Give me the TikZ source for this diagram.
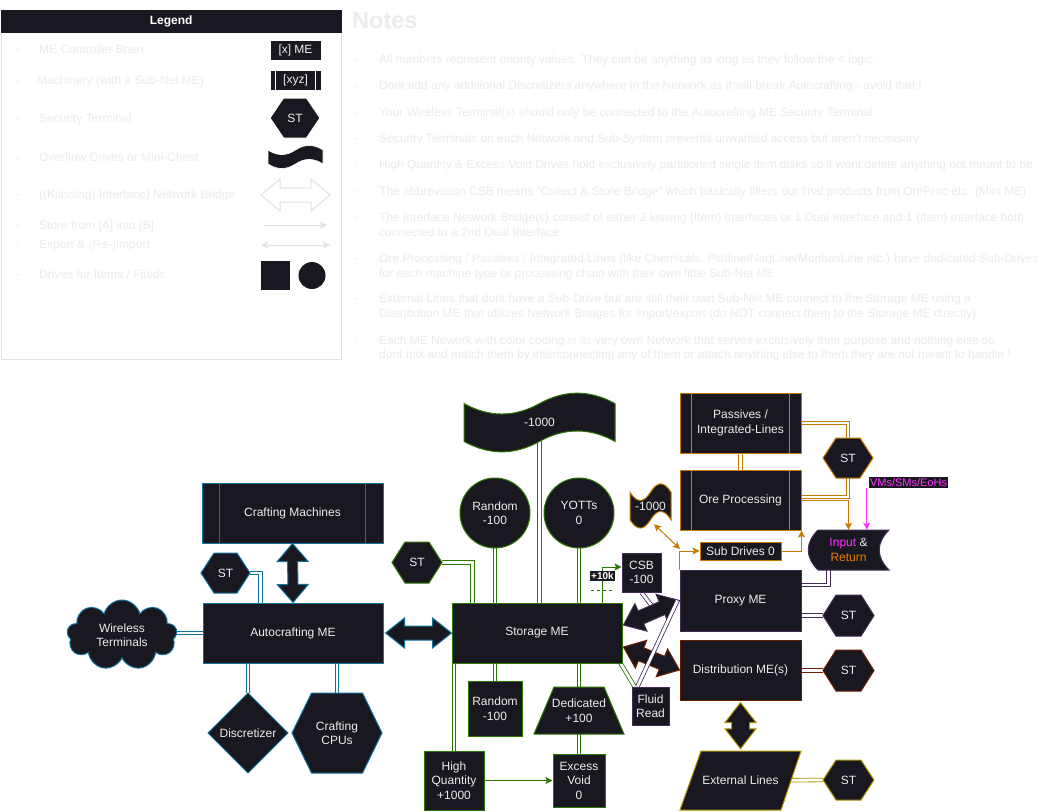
\documentclass[tikz,border=0pt]{standalone}
\usepackage{fontspec}
\setmainfont{Liberation Sans}
\usetikzlibrary{calc,arrows.meta,shapes.symbols}
\pgfdeclarelayer{back}
\pgfdeclarelayer{bg}
\pgfsetlayers{back,bg,main}
\definecolor{dk}{RGB}{25,23,31}
\definecolor{tx}{RGB}{236,236,236}
\definecolor{lt}{RGB}{236,236,236}
\definecolor{lgb}{RGB}{226,226,226}
\definecolor{cB}{HTML}{10739E}
\definecolor{cG}{HTML}{2D7600}
\definecolor{cP}{HTML}{432D57}
\definecolor{cO}{HTML}{C77A00}
\definecolor{cR}{HTML}{6D1F00}
\definecolor{cY}{HTML}{B09500}
\definecolor{cM}{HTML}{FF33FF}
\definecolor{cOt}{HTML}{E88000}
% draw.io style tape: x0,y0,w,h,size,style
\newcommand\drawtape[6]{%
 \pgfmathsetmacro\tpX{#1}\pgfmathsetmacro\tpY{#2}\pgfmathsetmacro\tpW{#3}%
 \pgfmathsetmacro\tpH{#4}\pgfmathsetmacro\tpD{#4*#5}%
 \draw[#6] (\tpX,\tpY+\tpD/2) .. controls (\tpX+\tpW/6,\tpY+1.1*\tpD) and (\tpX+\tpW/3,\tpY+1.1*\tpD) .. (\tpX+\tpW/2,\tpY+\tpD/2)
  .. controls (\tpX+2*\tpW/3,\tpY-0.1*\tpD) and (\tpX+5*\tpW/6,\tpY-0.1*\tpD) .. (\tpX+\tpW,\tpY+\tpD/2)
  -- (\tpX+\tpW,\tpY+\tpH-\tpD/2)
  .. controls (\tpX+5*\tpW/6,\tpY+\tpH-1.1*\tpD) and (\tpX+2*\tpW/3,\tpY+\tpH-1.1*\tpD) .. (\tpX+\tpW/2,\tpY+\tpH-\tpD/2)
  .. controls (\tpX+\tpW/3,\tpY+\tpH+0.1*\tpD) and (\tpX+\tpW/6,\tpY+\tpH+0.1*\tpD) .. (\tpX,\tpY+\tpH-\tpD/2) -- cycle;}
% hexagon: cx,cy,hw,hh,inset,style
\newcommand\hexshape[6]{%
 \draw[#6] ({#1-#3},#2) -- ({#1-#3+#5},{#2-#4}) -- ({#1+#3-#5},{#2-#4}) -- ({#1+#3},#2)
   -- ({#1+#3-#5},{#2+#4}) -- ({#1-#3+#5},{#2+#4}) -- cycle;}
% flex double arrow: style, A, B, shaft half, head half, head length
\newcommand\flexarrow[6]{%
 \coordinate (faP) at ($(#2)!#6!(#3)$);
 \coordinate (faQ) at ($(#3)!#6!(#2)$);
 \draw[#1] (#2) -- ($(faP)!#5!90:(#3)$) -- ($(faP)!#4!90:(#3)$) -- ($(faQ)!#4!-90:(#2)$)
   -- ($(faQ)!#5!-90:(#2)$) -- (#3) -- ($(faQ)!#5!90:(#2)$) -- ($(faQ)!#4!90:(#2)$)
   -- ($(faP)!#4!-90:(#3)$) -- ($(faP)!#5!-90:(#3)$) -- cycle;}
\begin{document}
\begin{tikzpicture}[x=1pt,y=-1pt,
  txt/.style={text=tx, font=\fontsize{12}{14.5}\selectfont, align=center, inner sep=0pt},
  box/.style={txt, draw=#1, fill=dk, line width=1pt},
  dbl/.style={draw=#1, line width=0.8pt, double=white, double distance=2.8pt},
  arr/.style={draw=#1, line width=1pt, -{Stealth[length=7pt,width=7pt,inset=1.5pt]}},
  arrs/.style={draw=#1, line width=1pt, {Stealth[length=7pt,width=7pt,inset=1.5pt]}-{Stealth[length=7pt,width=7pt,inset=1.5pt]}},
  shp/.style={draw=#1, fill=dk, line width=1pt},
  fa/.style={draw=#1, fill=dk, line width=1pt, line join=miter},
  ltxt/.style={text=lt, font=\fontsize{12}{14}\selectfont, anchor=west, inner sep=0pt, text height=8.6pt, text depth=0pt},
]
\useasboundingbox (0,0) rectangle (1041,811);
\begin{pgfonlayer}{back}
\fill[white] (0,0) rectangle (1041,811);
\end{pgfonlayer}

% ---------------- Legend ----------------
\draw[lgb, line width=1pt] (1,10) rectangle (341,359);
\node[fill=dk, minimum width=341pt, minimum height=23pt, inner sep=0pt, anchor=north west, text=white, font=\bfseries\fontsize{12}{14}\selectfont] (leghead) at (0.5,10) {Legend};
\node[ltxt] (ld1) at (16,49) {-};   \node[ltxt] (lt1) at (39,49) {ME Controller Brain};
\node[ltxt] (ld2) at (16,80) {-};   \node[ltxt] (lt2) at (37,80) {Machinery (with a Sub-Net ME)};
\node[ltxt] (ld3) at (16,118) {-};  \node[ltxt] (lt3) at (39,118) {Security Terminal};
\node[ltxt] (ld4) at (16,157) {-};  \node[ltxt] (lt4) at (39,157) {Overflow Drives or Mini-Chest};
\node[ltxt] (ld5) at (16,194.5) {-};\node[ltxt] (lt5) at (39,194.5) {((Kisssing) Interface) Network Bridge};
\node[ltxt] (ld6) at (16,225) {-};  \node[ltxt] (lt6) at (39,225) {Store from [A] into [B]};
\node[ltxt] (ld7) at (16,244.5) {-};\node[ltxt] (lt7) at (39,244.5) {Export \& (Re-)Import};
\node[ltxt] (ld8) at (16,274) {-};  \node[ltxt] (lt8) at (39,274) {Drives for Items / Fluids};

\node[box=white, line width=0.6pt, minimum width=51pt, minimum height=20pt] (li1) at (295.5,50) {[x] ME};
\node[box=white, line width=0.6pt, minimum width=51pt, minimum height=20pt] (li2) at (295.5,80) {[xyz]};
\draw[white, line width=1pt] ($(li2.north west)+(6,0)$) -- ($(li2.south west)+(6,0)$)
  ($(li2.north east)+(-6,0)$) -- ($(li2.south east)+(-6,0)$);
\hexshape{295}{118}{25}{20}{13.5}{shp=white}
\node[txt, minimum width=50pt, minimum height=40pt] (li3) at (295,118) {ST};
\drawtape{268}{145}{55}{24}{0.42}{fill=dk, draw=white, line width=0.6pt}
\node[inner sep=0pt, minimum width=55pt, minimum height=24pt] (li4) at (295.5,157) {};
\coordinate (la1) at (261,195); \coordinate (la2) at (330,195);
\flexarrow{fa=lgb, fill=white}{la1}{la2}{7pt}{16pt}{19pt}
\coordinate (ls1) at (263,225); \coordinate (ls2) at (327,225);
\draw[arr=lgb] (ls1) -- (ls2);
\coordinate (le1) at (261,245); \coordinate (le2) at (330,245);
\draw[arrs=lgb] (le1) -- (le2);
\node[fill=dk, minimum size=29pt, inner sep=0pt] (lsq) at (275.5,275.5) {};
\node[circle, fill=dk, minimum size=27pt, inner sep=0pt] (lci) at (312,275.5) {};

% ---------------- Notes ----------------
\node[text=lt, font=\bfseries\fontsize{23.5}{26}\selectfont, anchor=west, inner sep=0pt] (ntitle) at (352,21) {Notes};
\node[ltxt] (nd1) at (355,59) {-}; \node[ltxt] (n1) at (379,59) {All numbers represent priority values. They can be anything as long as they follow the < logic.};
\node[ltxt] (nd2) at (355,85) {-}; \node[ltxt] (n2) at (379,85) {Dont add any additional Discretizers anywhere in the Network as it will break Autocrafting - avoid that !};
\node[ltxt] (nd3) at (355,112) {-}; \node[ltxt] (n3) at (379,112) {Your Wireless Terminal(s) should only be connected to the Autocrafting ME Security Terminal.};
\node[ltxt] (nd4) at (355,138) {-}; \node[ltxt] (n4) at (379,138) {Security Terminals on each Network and Sub-System prevents unwanted access but aren't necessary};
\node[ltxt] (nd5) at (355,164) {-}; \node[ltxt] (n5) at (379,164) {High Quantity \& Excess Void Drives hold exclusively partitioned single item disks so it wont delete anything not meant to be.};
\node[ltxt] (nd6) at (355,191) {-}; \node[ltxt] (n6) at (379,191) {The abbrevation CSB means "Collect \& Store Bridge" which basically filters out final products from OreProc etc. (Mini ME)};
\node[ltxt] (nd7) at (355,217) {-}; \node[ltxt] (n7) at (379,217) {The Interface Network Bridge(s) consist of either 2 kissing (Item) Interfaces or 1 Dual Interface and 1 (Item) Interface both};
\node[ltxt] (n7b) at (379,232) {connected to a 2nd Dual Interface.};
\node[ltxt] (nd8) at (355,258) {-}; \node[ltxt] (n8) at (379,258) {Ore Processing / Passives / Integrated Lines (like Chemicals, Platline/NaqLine/MonbasLine etc.) have dedicated Sub-Drives};
\node[ltxt] (n8b) at (379,273) {for each machine type or processing chain with their own little Sub-Net ME.};
\node[ltxt] (nd9) at (355,298) {-}; \node[ltxt] (n9) at (379,298) {External Lines that dont have a Sub-Drive but are still their own Sub-Net ME connect to the Storage ME using a};
\node[ltxt] (n9b) at (379,313) {Distribution ME that utilizes Network Bridges for import/export (do NOT connect them to the Storage ME directly)};
\node[ltxt] (nd10) at (355,340) {-}; \node[ltxt] (n10) at (379,340) {Each ME Nework with color coding is its very own Network that serves exclusively their purpose and nothing else so};
\node[ltxt] (n10b) at (379,354) {dont mix and match them by interconnecting any of them or attach anything else to them they are not meant to handle !};

% ---------------- Autocrafting (blue) ----------------
\node[box=cB, minimum width=181pt, minimum height=60pt] (craft) at (292.5,513) {Crafting Machines};
\draw[cB, line width=1pt] ($(craft.north west)+(18,0)$) -- ($(craft.south west)+(18,0)$)
  ($(craft.north east)+(-18,0)$) -- ($(craft.south east)+(-18,0)$);
\node[box=cB, minimum width=180pt, minimum height=60pt] (auto) at (293,633) {Autocrafting ME};
\hexshape{225.5}{573}{24.5}{20}{13}{shp=cB}
\node[txt, minimum width=49pt, minimum height=40pt] (stB) at (225.5,573) {ST};
\node[cloud, cloud puffs=9, cloud ignores aspect, draw=cB, fill=dk, line width=1pt, minimum width=110pt, minimum height=70pt, txt] (cloud) at (122,635) {Wireless\\Terminals};
\draw[shp=cB] (208,733) -- (248,693) -- (288,733) -- (248,773) -- cycle;
\node[txt, minimum width=80pt, minimum height=80pt] (disc) at (248,733) {Discretizer};
\hexshape{337}{733}{45}{40}{19.5}{shp=cB}
\node[txt, minimum width=90pt, minimum height=80pt] (cpu) at (337,733) {Crafting\\CPUs};

% ---------------- Storage (green) ----------------
\node[box=cG, minimum width=170pt, minimum height=60pt] (sto) at (537,633) {Storage ME};
\drawtape{464}{392}{151}{61}{0.38}{shp=cG}
\node[txt, minimum width=151pt, minimum height=61pt] (w1) at (539.5,422.5) {-1000};
\node[circle, box=cG, minimum size=70pt] (rnd1) at (495,513) {Random\\-100};
\node[circle, box=cG, minimum size=70pt] (yot) at (579,513) {YOTTs\\0};
\hexshape{417}{562.5}{25}{20.5}{13}{shp=cG}
\node[txt, minimum width=50pt, minimum height=41pt] (stG) at (417,562.5) {ST};
\node[box=cP, minimum width=39pt, minimum height=39pt] (csb) at (641.5,572.5) {CSB\\-100};
\node[box=cG, minimum width=54pt, minimum height=55pt] (rnd2) at (495,708.5) {Random\\-100};
\draw[shp=cG] (554,687) -- (604,687) -- (624,734) -- (534,734) -- cycle;
\node[txt, minimum width=70pt, minimum height=47pt] (ded) at (579,710.5) {Dedicated\\+100};
\node[box=cG, minimum width=60pt, minimum height=59pt] (hq) at (454,780.5) {High\\Quantity\\+1000};
\node[box=cG, minimum width=52pt, minimum height=53pt] (ev) at (579,780.5) {Excess\\Void\\0};
\node[box=cP, minimum width=37pt, minimum height=38pt] (fluid) at (650.5,706) {Fluid\\Read};
\node[fill=dk, text=white, font=\bfseries\fontsize{10}{12}\selectfont, inner sep=1.2pt] (k10) at (602.5,576) {+10k};

% ---------------- Right side ----------------
\node[box=cO, minimum width=121pt, minimum height=60pt] (pas) at (740.5,423) {Passives /\\Integrated-Lines};
\draw[cO, line width=1pt] ($(pas.north west)+(12,0)$) -- ($(pas.south west)+(12,0)$)
  ($(pas.north east)+(-12,0)$) -- ($(pas.south east)+(-12,0)$);
\node[box=cO, minimum width=121pt, minimum height=60pt] (ore) at (740.5,500) {Ore Processing};
\draw[cO, line width=1pt] ($(ore.north west)+(12,0)$) -- ($(ore.south west)+(12,0)$)
  ($(ore.north east)+(-12,0)$) -- ($(ore.south east)+(-12,0)$);
\node[box=cO, minimum width=81pt, minimum height=18pt] (subd) at (740.5,551) {Sub Drives 0};
\drawtape{630}{483}{41}{46}{0.4}{shp=cO}
\node[txt, minimum width=41pt, minimum height=46pt] (w2) at (650.5,506) {-1000};
\hexshape{848}{458}{25}{20}{13}{shp=cO}
\node[txt, minimum width=50pt, minimum height=40pt] (stO) at (848,458) {ST};
\node[box=cP, minimum width=121pt, minimum height=61pt] (prox) at (740.5,600.5) {Proxy ME};
\hexshape{848.5}{615.5}{25.5}{20.5}{13}{shp=cP}
\node[txt, minimum width=51pt, minimum height=41pt] (stP) at (848.5,615.5) {ST};
\draw[shp=cP] (818,530) -- (889,530) .. controls (876,543) and (876,557) .. (889,570) -- (818,570) .. controls (805,557) and (805,543) .. (818,530) -- cycle;
\node[txt, minimum width=81pt, minimum height=40pt] (inret) at (848.5,550) {\textcolor{cM}{Input} \&\\\textcolor{cOt}{Return}};
\node[fill=dk, text=cM, font=\fontsize{11}{13}\selectfont, inner sep=1pt] (vms) at (908.5,482.5) {VMs/SMs/EoHs};
\node[box=cR, minimum width=121pt, minimum height=60pt] (dist) at (740.5,670) {Distribution ME(s)};
\hexshape{848.5}{670.5}{25.5}{20.5}{13}{shp=cR}
\node[txt, minimum width=51pt, minimum height=41pt] (stR) at (848.5,670.5) {ST};
\draw[shp=cY] (701,751) -- (801,751) -- (781,810) -- (680,810) -- cycle;
\node[txt, minimum width=121pt, minimum height=59pt] (ext) at (740.5,780.5) {External Lines};
\hexshape{848.5}{780}{25.5}{20}{13}{shp=cY}
\node[txt, minimum width=51pt, minimum height=40pt] (stY) at (848.5,780) {ST};

% ---------------- connectors (behind) ----------------
\begin{pgfonlayer}{bg}
\draw[dbl=cB] (stB.east) -| ($(auto.north west)+(58,0)$);
\draw[dbl=cB] (auto.west) -- (cloud.center |- auto.west);
\draw[dbl=cB] (disc.north |- auto.south) -- (disc.north);
\draw[dbl=cB] (cpu.north |- auto.south) -- (cpu.north);
\draw[dbl=cG] (stG.east) -| ($(sto.north west)+(21,0)$);
\draw[dbl=cG] (rnd1.center) -- (rnd1.center |- sto.north);
\draw[dbl=cG] (w1.center) -- (w1.center |- sto.north);
\draw[dbl=cG] (yot.center) -- (yot.center |- sto.north);
\draw[dbl=cG] (hq.north |- sto.south) -- (hq.north);
\draw[dbl=cG] (rnd2.north |- sto.south) -- (rnd2.north);
\draw[dbl=cG] (ded.north |- sto.south) -- (ded.north);
\draw[dbl=cG] (ded.south) -- (ev.north);
\draw[dbl=cG] ($(sto.south east)+(-3,-2)$) -- ($(fluid.north west)+(3,0)$);
\draw[arr=cG] (hq.east) -- (ev.west);
\draw[arr=cG] ($(sto.north east)+(-20,0)$) |- ($(csb.west)+(0,-5.5)$);
\coordinate (dsa) at (591,590); \coordinate (dsb) at (612,590);
\draw[cG, line width=1pt, dash pattern=on 3pt off 3pt] (dsa) -- (dsb);
\coordinate (csbend) at (655,610);
\draw[dbl=cP] (csb.south) -- (csbend);
\draw[dbl=cP] (stP.west) -- (stP.west -| prox.east);
\draw[dbl=cP] ($(inret.south)+(-20,0)$) |- ($(prox.east)+(0,-15.5)$);
\draw[dbl=cO] (pas.south) -- (ore.north);
\draw[dbl=cO] (pas.east) -| (stO.north);
\draw[dbl=cO] (stO.south) |- ($(ore.east)+(0,-3)$);
\draw[arr=cO] (ore.east) -| (inret.north);
\draw[arr=cO] (subd.east) -| (ore.south east);
\draw[arr=cO] (prox.north west) |- (subd.west);
\coordinate (jn) at (680,549);
\draw[arrs=cO] ($(w2.south)+(3.5,-5)$) -- (jn);
\coordinate (vm0) at ($(vms.south west)+(-2,0)$);
\draw[arr=cM] (vm0) -- (vm0 |- inret.north);
\draw[dbl=cR] (stR.west) -- (stR.west -| dist.east);
\draw[dbl=cY] (ext.center) -- (stY.west);
\end{pgfonlayer}

% ---------------- big bridge arrows ----------------
\flexarrow{fa=cB}{craft.south}{auto.north}{5pt}{15.5pt}{18pt}
\coordinate (asA) at ($(auto.east)+(2,0)$);
\flexarrow{fa=cB}{asA}{sto.west}{7pt}{15pt}{19pt}
\coordinate (spA) at ($(sto.east)+(1,-8)$);
\flexarrow{fa=cP}{spA}{prox.west}{7pt}{15pt}{19pt}
\coordinate (sdA) at ($(sto.east)+(1,14)$);
\flexarrow{fa=cR}{sdA}{dist.west}{7pt}{15pt}{19pt}
\coordinate (deA) at ($(dist.south)+(0,2)$);
\coordinate (deB) at ($(ext.north)+(0,-2)$);
\flexarrow{fa=cY}{deA}{deB}{9pt}{15.5pt}{20pt}
\draw[dbl=cP] ($(fluid.north west)+(6,0)$) -- ($(prox.west)+(-2,0)$);
\end{tikzpicture}
\end{document}
